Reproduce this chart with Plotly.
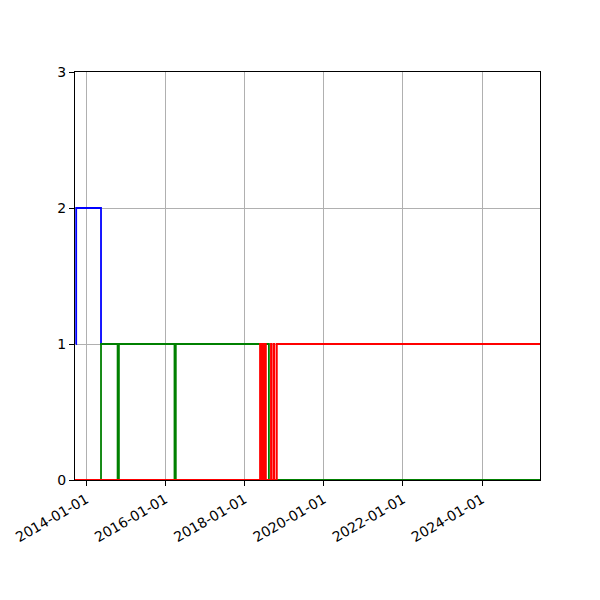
import plotly.graph_objects as go

# -- step series (date of change, new value) ---------------------------------
blue_dates = ['2013-09-28', '2013-10-01', '2014-05-18', '2018-05-24']
blue_vals = [1, 2, 1, 1]

green_dates = ['2013-09-20', '2014-05-18', '2014-10-18', '2014-10-30',
               '2016-03-26', '2016-04-07', '2018-08-14', '2025-06-19']
green_vals = [0, 1, 0, 1, 0, 1, 0, 0]

red_dates = ['2013-09-20', '2018-05-24', '2018-06-01', '2018-06-09',
             '2018-06-17', '2018-06-25', '2018-07-03', '2018-07-12',
             '2018-07-17', '2018-09-02', '2018-09-08', '2018-09-28',
             '2018-10-04', '2018-10-26', '2025-06-19']
red_vals = [0, 1, 0, 1, 0, 1, 0, 1, 0, 1, 0, 1, 0, 1, 1]

tick_dates = ['2014-01-01', '2016-01-01', '2018-01-01',
              '2020-01-01', '2022-01-01', '2024-01-01']

fig = go.Figure()
fig.add_trace(go.Scatter(x=blue_dates, y=blue_vals, mode='lines',
                         line=dict(color='blue', width=1.8, shape='hv')))
fig.add_trace(go.Scatter(x=green_dates, y=green_vals, mode='lines',
                         line=dict(color='green', width=1.8, shape='hv')))
fig.add_trace(go.Scatter(x=red_dates, y=red_vals, mode='lines',
                         line=dict(color='red', width=1.8, shape='hv')))

axis_style = dict(showline=True, mirror=True, linecolor='black', linewidth=1,
                  showgrid=True, gridcolor='#b0b0b0', gridwidth=0.8,
                  ticks='outside', ticklen=5, tickcolor='black', zeroline=False,
                  automargin=False,
                  tickfont=dict(family='DejaVu Sans', size=14, color='black'))

# page body adds 8px offset, so margins are shifted by 8
fig.update_layout(
    width=600, height=600,
    margin=dict(l=67, r=68, t=64, b=128),
    paper_bgcolor='white', plot_bgcolor='white',
    showlegend=False,
    xaxis=dict(range=['2013-09-20', '2025-06-19'], tickvals=tick_dates,
               ticktext=tick_dates, tickangle=-30, **axis_style),
    yaxis=dict(range=[0, 3], tickvals=[0, 1, 2, 3], **axis_style),
)
fig.write_html("out.html")
